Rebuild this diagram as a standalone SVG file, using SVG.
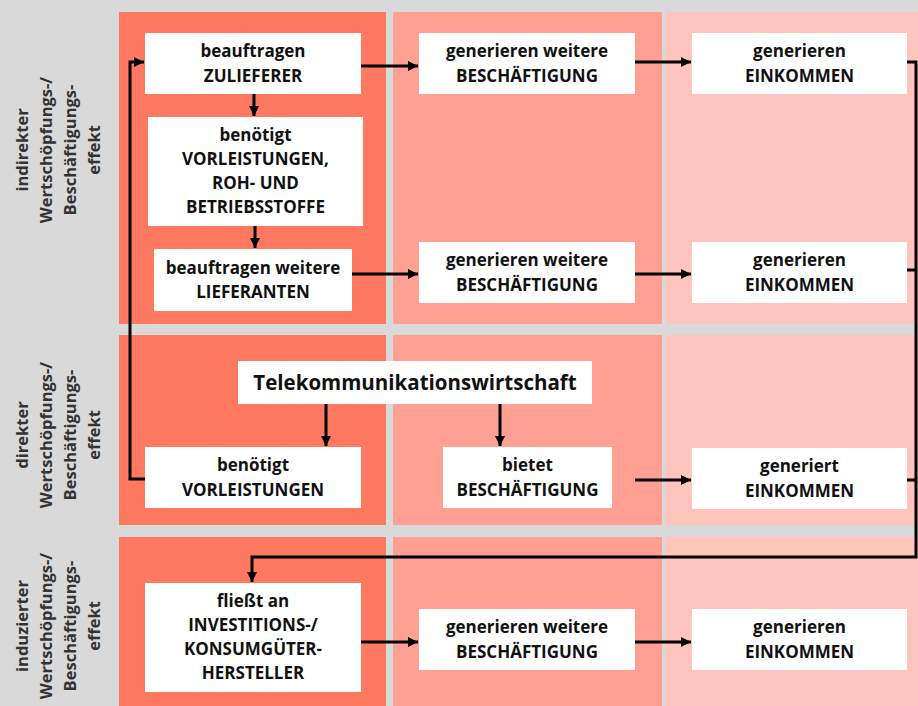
<svg xmlns="http://www.w3.org/2000/svg" width="918" height="706" viewBox="0 0 918 706">
<style>
.bg{fill:#D9D9D9}
.c1{fill:#FF7860}
.c2{fill:#FFA093}
.c3{fill:#FFC5BD}
.box{fill:#FFFFFF}
.t{font-family:"Open Sans","Liberation Sans",sans-serif;font-weight:bold;font-size:17px;fill:#111111;text-anchor:middle}
.big{font-size:20.5px}
.lab{font-family:"Open Sans","Liberation Sans",sans-serif;font-weight:bold;font-size:16.5px;fill:#333333;text-anchor:middle}
.ln{fill:none;stroke:#000;stroke-width:3}
</style>
<defs>
<marker id="ah" markerUnits="userSpaceOnUse" markerWidth="11" markerHeight="11" refX="10" refY="5" orient="auto">
<path d="M0,0 L10,5 L0,10 z" fill="#000"/>
</marker>
</defs>
<rect class="bg" x="0" y="0" width="918" height="706"/>
<g id="bands">
<rect class="c1" x="119" y="12" width="267" height="312"/>
<rect class="c2" x="393" y="12" width="269" height="312"/>
<rect class="c3" x="666" y="12" width="252" height="312"/>
<rect class="c1" x="119" y="335" width="267" height="190"/>
<rect class="c2" x="393" y="335" width="269" height="190"/>
<rect class="c3" x="666" y="335" width="252" height="190"/>
<rect class="c1" x="119" y="537" width="267" height="169"/>
<rect class="c2" x="393" y="537" width="269" height="169"/>
<rect class="c3" x="666" y="537" width="252" height="169"/>
</g>
<g id="row-labels">
<text class="lab" transform="translate(28,150) rotate(-90)"><tspan x="0" y="0">indirekter</tspan><tspan x="0" dy="24">Wertschöpfungs-/</tspan><tspan x="0" dy="24">Beschäftigungs-</tspan><tspan x="0" dy="24">effekt</tspan></text>
<text class="lab" transform="translate(28,435) rotate(-90)"><tspan x="0" y="0">direkter</tspan><tspan x="0" dy="24">Wertschöpfungs-/</tspan><tspan x="0" dy="24">Beschäftigungs-</tspan><tspan x="0" dy="24">effekt</tspan></text>
<text class="lab" transform="translate(28,626) rotate(-90)"><tspan x="0" y="0">induzierter</tspan><tspan x="0" dy="24">Wertschöpfungs-/</tspan><tspan x="0" dy="24">Beschäftigungs-</tspan><tspan x="0" dy="24">effekt</tspan></text>
</g>
<g id="connectors">
<path class="ln" d="M145,479 H130 V62 H144" marker-end="url(#ah)"/>
<path class="ln" d="M254,94 V116" marker-end="url(#ah)"/>
<path class="ln" d="M255,226 V248" marker-end="url(#ah)"/>
<path class="ln" d="M361,66 H418" marker-end="url(#ah)"/>
<path class="ln" d="M635,62 H691" marker-end="url(#ah)"/>
<path class="ln" d="M352,274 H418" marker-end="url(#ah)"/>
<path class="ln" d="M635,274 H691" marker-end="url(#ah)"/>
<path class="ln" d="M907,62 H916 V557 H252 V582" marker-end="url(#ah)"/>
<path class="ln" d="M907,270 H916"/>
<path class="ln" d="M907,480 H916"/>
<path class="ln" d="M326,404 V446" marker-end="url(#ah)"/>
<path class="ln" d="M500,404 V446" marker-end="url(#ah)"/>
<path class="ln" d="M635,480 H691" marker-end="url(#ah)"/>
<path class="ln" d="M361,642 H418" marker-end="url(#ah)"/>
<path class="ln" d="M635,642 H691" marker-end="url(#ah)"/>
</g>
<g id="n-zulieferer"><rect class="box" x="145" y="33" width="216" height="61"/><text class="t"><tspan x="253" y="57">beauftragen</tspan><tspan x="253" y="82">ZULIEFERER</tspan></text></g>
<g id="n-vorleistungen-roh"><rect class="box" x="148" y="117" width="215" height="109"/><text class="t"><tspan x="255.5" y="141">benötigt</tspan><tspan x="255.5" y="165">VORLEISTUNGEN,</tspan><tspan x="255.5" y="189">ROH- UND</tspan><tspan x="255.5" y="213">BETRIEBSSTOFFE</tspan></text></g>
<g id="n-lieferanten"><rect class="box" x="154" y="249" width="198" height="62"/><text class="t"><tspan x="253" y="274">beauftragen weitere</tspan><tspan x="253" y="298">LIEFERANTEN</tspan></text></g>
<g id="n-besch-1"><rect class="box" x="419" y="33" width="216" height="61"/><text class="t"><tspan x="527" y="57">generieren weitere</tspan><tspan x="527" y="82">BESCHÄFTIGUNG</tspan></text></g>
<g id="n-eink-1"><rect class="box" x="692" y="33" width="215" height="61"/><text class="t"><tspan x="799.5" y="57">generieren</tspan><tspan x="799.5" y="82">EINKOMMEN</tspan></text></g>
<g id="n-besch-2"><rect class="box" x="419" y="242" width="216" height="61"/><text class="t"><tspan x="527" y="266">generieren weitere</tspan><tspan x="527" y="291">BESCHÄFTIGUNG</tspan></text></g>
<g id="n-eink-2"><rect class="box" x="692" y="242" width="215" height="61"/><text class="t"><tspan x="799.5" y="266">generieren</tspan><tspan x="799.5" y="291">EINKOMMEN</tspan></text></g>
<g id="n-telekom"><rect class="box" x="238" y="361" width="354" height="43"/><text class="t big" x="415" y="390">Telekommunikationswirtschaft</text></g>
<g id="n-vorleistungen"><rect class="box" x="145" y="447" width="216" height="61"/><text class="t"><tspan x="253" y="471">benötigt</tspan><tspan x="253" y="496">VORLEISTUNGEN</tspan></text></g>
<g id="n-bietet"><rect class="box" x="443" y="447" width="169" height="61"/><text class="t"><tspan x="527.5" y="471">bietet</tspan><tspan x="527.5" y="496">BESCHÄFTIGUNG</tspan></text></g>
<g id="n-generiert"><rect class="box" x="692" y="448" width="215" height="61"/><text class="t"><tspan x="799.5" y="472">generiert</tspan><tspan x="799.5" y="497">EINKOMMEN</tspan></text></g>
<g id="n-hersteller"><rect class="box" x="145" y="583" width="216" height="109"/><text class="t"><tspan x="253" y="607">fließt an</tspan><tspan x="253" y="631">INVESTITIONS-/</tspan><tspan x="253" y="655">KONSUMGÜTER-</tspan><tspan x="253" y="679">HERSTELLER</tspan></text></g>
<g id="n-besch-3"><rect class="box" x="419" y="609" width="216" height="61"/><text class="t"><tspan x="527" y="633">generieren weitere</tspan><tspan x="527" y="658">BESCHÄFTIGUNG</tspan></text></g>
<g id="n-eink-3"><rect class="box" x="692" y="609" width="215" height="61"/><text class="t"><tspan x="799.5" y="633">generieren</tspan><tspan x="799.5" y="658">EINKOMMEN</tspan></text></g>
</svg>
